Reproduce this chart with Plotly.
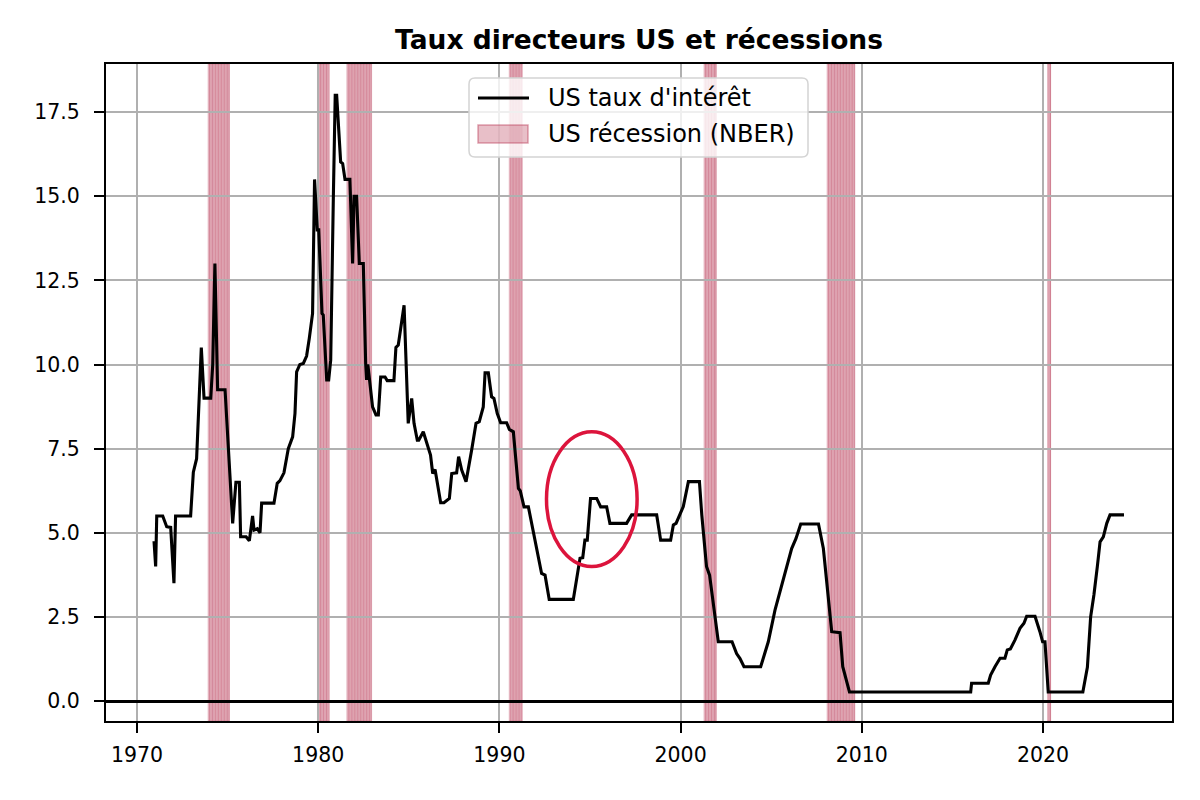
import plotly.graph_objects as go

# ---- data ----
years = [1970.94, 1971.03, 1971.09, 1971.42, 1971.64, 1971.86, 1972.04, 1972.13, 1972.96, 1973.11,
         1973.29, 1973.55, 1973.70, 1974.07, 1974.18, 1974.30, 1974.45, 1974.86, 1975.28, 1975.46,
         1975.65, 1975.72, 1976.02, 1976.20, 1976.38, 1976.46, 1976.64, 1976.79, 1976.88, 1977.56,
         1977.74, 1977.89, 1978.11, 1978.35, 1978.59, 1978.72, 1978.81, 1978.99, 1979.18, 1979.36,
         1979.51, 1979.69, 1979.80, 1979.95, 1980.03, 1980.21, 1980.28, 1980.47, 1980.58, 1980.69,
         1980.84, 1980.94, 1981.02, 1981.24, 1981.35, 1981.48, 1981.75, 1981.90, 1981.98, 1982.12,
         1982.27, 1982.49, 1982.62, 1982.67, 1982.74, 1983.00, 1983.19, 1983.32, 1983.45, 1983.69,
         1983.81, 1984.18, 1984.29, 1984.42, 1984.74, 1984.97, 1985.16, 1985.29, 1985.47, 1985.55,
         1985.80, 1986.02, 1986.20, 1986.32, 1986.45, 1986.76, 1986.94, 1987.24, 1987.37, 1987.64,
         1987.75, 1987.92, 1988.16, 1988.47, 1988.71, 1988.89, 1989.11, 1989.21, 1989.39, 1989.57,
         1989.70, 1989.88, 1990.07, 1990.40, 1990.55, 1990.77, 1991.05, 1991.15, 1991.36, 1991.60,
         1992.33, 1992.52, 1992.75, 1994.08, 1994.45, 1994.60, 1994.72, 1994.85, 1995.03, 1995.37,
         1995.59, 1995.92, 1996.10, 1997.02, 1997.30, 1998.68, 1998.90, 1999.45, 1999.60, 1999.75,
         1999.97, 2000.15, 2000.43, 2001.04, 2001.17, 2001.43, 2001.60, 2002.08, 2002.84, 2003.09,
         2003.28, 2003.50, 2004.42, 2004.66, 2004.84, 2005.21, 2005.49, 2005.86, 2006.13, 2006.37,
         2006.63, 2007.61, 2007.88, 2008.34, 2008.80, 2008.95, 2009.32, 2016.01, 2016.06, 2016.98,
         2017.11, 2017.35, 2017.63, 2017.90, 2018.03, 2018.20, 2018.45, 2018.73, 2018.95, 2019.10,
         2019.56, 2019.83, 2019.98, 2020.11, 2020.29, 2022.20, 2022.45, 2022.63, 2022.81, 2023.00,
         2023.15, 2023.33, 2023.52, 2023.70, 2024.47]
rates = [4.75, 4.0, 5.5, 5.5, 5.18, 5.16, 3.5, 5.5, 5.5, 6.8,
         7.2, 10.5, 9.0, 9.0, 10.0, 13.0, 9.25, 9.25, 5.28, 6.5,
         6.5, 4.88, 4.88, 4.76, 5.5, 5.08, 5.12, 5.0, 5.88, 5.88,
         6.47, 6.55, 6.78, 7.5, 7.85, 8.55, 9.78, 10.0, 10.03, 10.25,
         10.78, 11.52, 15.5, 14.0, 14.0, 11.52, 11.47, 9.54, 9.54, 10.13,
         15.08, 18.0, 18.0, 16.02, 15.97, 15.5, 15.5, 13.0, 15.0, 15.0,
         13.0, 13.0, 10.03, 9.54, 10.0, 8.74, 8.5, 8.5, 9.63, 9.63,
         9.52, 9.52, 10.51, 10.58, 11.76, 8.25, 8.99, 8.25, 7.75, 7.75,
         8.0, 7.65, 7.31, 6.76, 6.88, 5.89, 5.89, 6.02, 6.76, 6.78,
         7.26, 6.86, 6.52, 7.46, 8.25, 8.3, 8.74, 9.75, 9.75, 9.04,
         8.99, 8.55, 8.27, 8.27, 8.07, 8.0, 6.32, 6.25, 5.77, 5.77,
         3.79, 3.74, 3.02, 3.02, 4.24, 4.26, 4.78, 4.78, 6.02, 6.02,
         5.77, 5.77, 5.28, 5.28, 5.53, 5.53, 4.78, 4.78, 5.23, 5.28,
         5.53, 5.78, 6.52, 6.52, 5.53, 4.0, 3.74, 1.76, 1.76, 1.41,
         1.26, 1.02, 1.02, 1.46, 1.76, 2.70, 3.25, 3.99, 4.53, 4.83,
         5.26, 5.26, 4.53, 2.06, 2.03, 1.02, 0.27, 0.27, 0.53, 0.53,
         0.77, 1.02, 1.27, 1.27, 1.52, 1.55, 1.81, 2.16, 2.31, 2.52,
         2.52, 2.06, 1.76, 1.76, 0.27, 0.27, 1.0, 2.5, 3.15, 4.0,
         4.73, 4.88, 5.28, 5.53, 5.53]

rec_start = [1973.92, 1979.96, 1981.58, 1990.54, 2001.29, 2008.08, 2020.25]
rec_end = [1975.09, 1980.62, 1982.95, 1991.27, 2001.96, 2009.62, 2020.42]

x_ticks = [1970, 1980, 1990, 2000, 2010, 2020]
y_ticks = [0.0, 2.5, 5.0, 7.5, 10.0, 12.5, 15.0, 17.5]

title = "Taux directeurs US et récessions"
line_name = "US taux d'intérêt"
rec_name = "US récession (NBER)"

highlight_center = (1995.1, 6.0)
highlight_half = (2.5, 2.0)

# ---- style / layout geometry (pixels) ----
FONT = "DejaVu Sans"
W, H = 1200, 800
ML, MR, MT, MB = 106, 28, 64, 79
PW, PH = W - ML - MR, H - MT - MB
REC_FILL = "rgba(185,55,85,0.30)"
REC_LINE = "rgba(185,55,85,0.30)"


def px(xp):
    return (xp - ML) / PW


def py(yp):
    return (H - MB - yp) / PH


shapes = []
for s, e in zip(rec_start, rec_end):
    m = s
    while m < e - 1e-9:
        m2 = min(m + 1 / 12, e)
        shapes.append(dict(type="rect", xref="x", yref="paper", x0=m, x1=m2, y0=0, y1=1,
                           fillcolor=REC_FILL, line=dict(color=REC_LINE, width=0.8),
                           layer="below"))
        m = m2

cx, cy = highlight_center
hx, hy = highlight_half
shapes.append(dict(type="circle", xref="x", yref="y", x0=cx - hx, x1=cx + hx,
                   y0=cy - hy, y1=cy + hy, line=dict(color="#DC143C", width=3.5),
                   fillcolor="rgba(0,0,0,0)", layer="above"))

# ---- custom legend (matplotlib-like) ----
L0, L1, T0, T1, R = 469, 808, 78, 157, 6
lx0, lx1, ly0, ly1 = px(L0), px(L1), py(T1), py(T0)
rx, ry = R / PW, R / PH
path = (f"M {lx0+rx},{ly0} L {lx1-rx},{ly0} Q {lx1},{ly0} {lx1},{ly0+ry} "
        f"L {lx1},{ly1-ry} Q {lx1},{ly1} {lx1-rx},{ly1} L {lx0+rx},{ly1} "
        f"Q {lx0},{ly1} {lx0},{ly1-ry} L {lx0},{ly0+ry} Q {lx0},{ly0} {lx0+rx},{ly0} Z")
shapes.append(dict(type="path", xref="paper", yref="paper", path=path,
                   fillcolor="rgba(255,255,255,0.8)", line=dict(color="#d4d4d4", width=1.5),
                   layer="above"))
shapes.append(dict(type="line", xref="paper", yref="paper", x0=px(478), x1=px(529),
                   y0=py(98), y1=py(98), line=dict(color="black", width=3), layer="above"))
shapes.append(dict(type="rect", xref="paper", yref="paper", x0=px(478), x1=px(528),
                   y0=py(143), y1=py(125), fillcolor="rgba(185,55,85,0.32)",
                   line=dict(color="rgba(185,55,85,0.45)", width=1.5), layer="above"))

annotations = [
    dict(text=line_name, xref="paper", yref="paper", x=px(546), y=py(98),
         xanchor="left", yanchor="middle", showarrow=False,
         font=dict(family=FONT, size=24, color="black")),
    dict(text=rec_name, xref="paper", yref="paper", x=px(546), y=py(134),
         xanchor="left", yanchor="middle", showarrow=False,
         font=dict(family=FONT, size=24, color="black")),
]

fig = go.Figure()
fig.add_trace(go.Scatter(x=years, y=rates, mode="lines", name=line_name,
                         line=dict(color="black", width=3.1), showlegend=False))

fig.update_layout(
    width=W, height=H,
    margin=dict(l=ML, r=MR, t=MT, b=MB),
    paper_bgcolor="white", plot_bgcolor="white",
    font=dict(family=FONT, color="black", size=20),
    title=dict(text="<b>" + title + "</b>", x=0.5, xref="paper", xanchor="center",
               y=1 - 40 / H, yref="container", yanchor="middle",
               font=dict(family=FONT, size=26.5, color="black")),
    showlegend=False,
    shapes=shapes,
    annotations=annotations,
)

fig.update_xaxes(range=[1968.29, 2027.12], tickvals=x_ticks, ticktext=[str(v) for v in x_ticks],
                 showgrid=True, gridcolor="#b0b0b0", gridwidth=2,
                 showline=True, linecolor="black", linewidth=2.2, mirror=True,
                 ticks="outside", ticklen=10, tickwidth=2.2, tickcolor="black",
                 zeroline=False, tickfont=dict(size=20.5), ticklabelstandoff=4)
fig.update_yaxes(range=[-0.594, 18.93], tickvals=y_ticks, ticktext=[f"{v:.1f}" for v in y_ticks],
                 showgrid=True, gridcolor="#b0b0b0", gridwidth=2,
                 showline=True, linecolor="black", linewidth=2.2, mirror=True,
                 ticks="outside", ticklen=10, tickwidth=2.2, tickcolor="black",
                 zeroline=True, zerolinecolor="black", zerolinewidth=2.5,
                 tickfont=dict(size=20.5), ticklabelstandoff=10)

fig.write_html("out.html")
